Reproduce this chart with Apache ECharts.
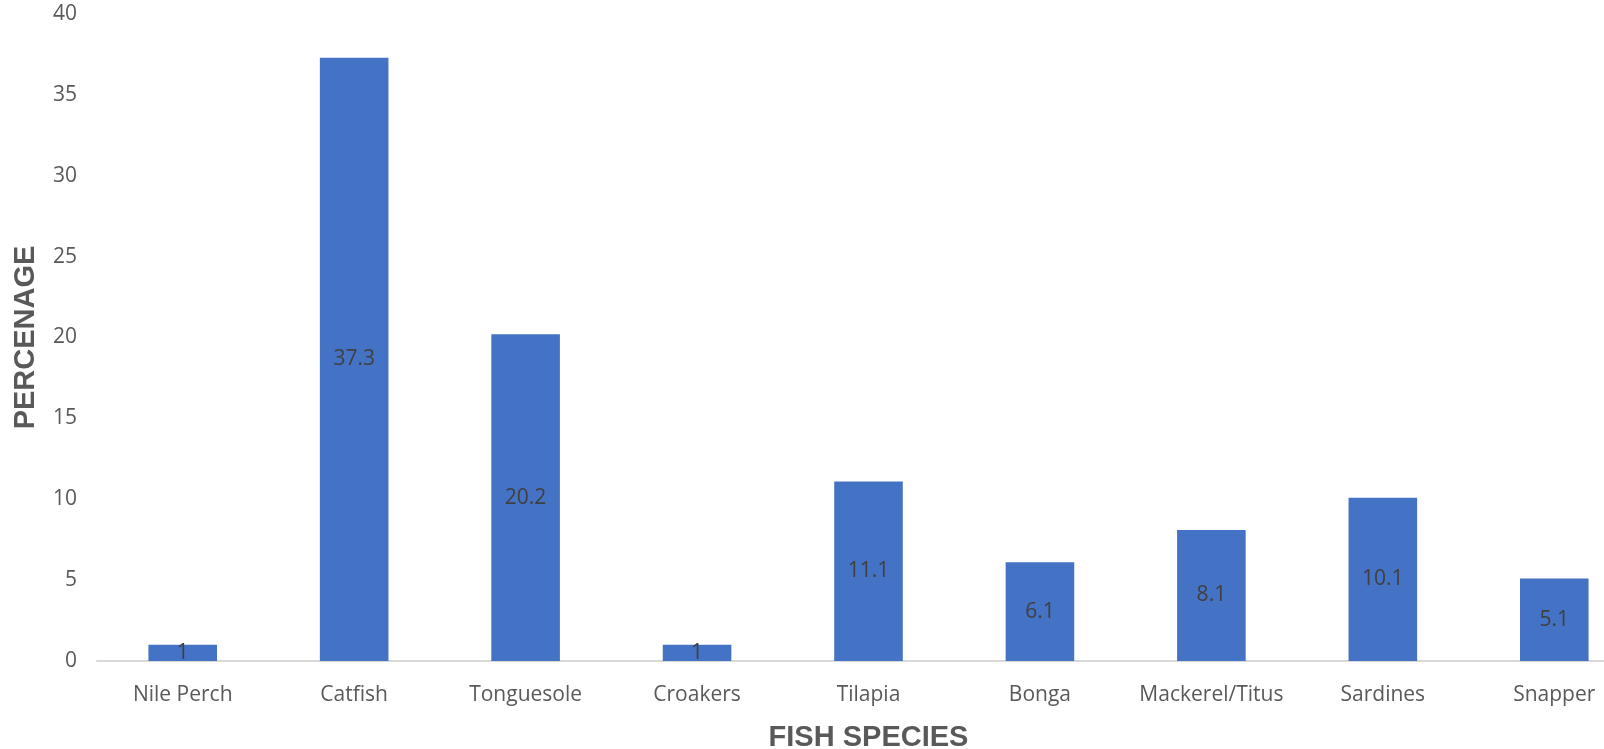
<!DOCTYPE html>
<html>
<head>
<meta charset="utf-8">
<script src="https://cdn.jsdelivr.net/npm/echarts@6/dist/echarts.min.js"></script>
<style>
  html, body { margin: 0; padding: 0; background: #ffffff; }
  #chart { width: 1604px; height: 749px; }
</style>
</head>
<body>
<div id="chart"></div>
<script>
// Share of each fish species (percent)
const species = ['Nile Perch', 'Catfish', 'Tonguesole', 'Croakers', 'Tilapia', 'Bonga', 'Mackerel/Titus', 'Sardines', 'Snapper'];
const percentages = [1, 37.3, 20.2, 1, 11.1, 6.1, 8.1, 10.1, 5.1];

const yMin = 0;
const yMax = 40;
const yStep = 5;

const chart = echarts.init(document.getElementById('chart'), null, { renderer: 'canvas' });

chart.setOption({
  backgroundColor: '#ffffff',
  animation: false,
  grid: { left: 97, right: -36, top: 14, bottom: 88, containLabel: false, outerBoundsMode: 'none' },
  xAxis: {
    type: 'category',
    data: species,
    name: 'FISH SPECIES',
    nameLocation: 'middle',
    nameGap: 62,
    nameMoveOverlap: false,
    nameTextStyle: { fontFamily: 'Liberation Sans', fontWeight: 'bold', fontSize: 29, color: '#595959' },
    axisLine: { show: true, lineStyle: { color: '#d9d9d9', width: 2 } },
    axisTick: { show: false },
    axisLabel: { fontFamily: 'Open Sans', fontSize: 21, color: '#595959', margin: 24, interval: 0 },
    splitLine: { show: false }
  },
  yAxis: {
    type: 'value',
    min: yMin,
    max: yMax,
    interval: yStep,
    name: 'PERCENAGE',
    nameLocation: 'middle',
    nameGap: 57,
    nameRotate: 90,
    nameMoveOverlap: false,
    nameTextStyle: { fontFamily: 'Liberation Sans', fontWeight: 'bold', fontSize: 29, color: '#595959' },
    axisLine: { show: false },
    axisTick: { show: false },
    axisLabel: { fontFamily: 'Open Sans', fontSize: 21, color: '#595959', margin: 20 },
    splitLine: { show: false }
  },
  series: [{
    type: 'bar',
    data: percentages,
    barWidth: '40%',
    itemStyle: { color: '#4472C4' },
    label: {
      show: true,
      position: 'inside',
      fontFamily: 'Open Sans',
      fontSize: 21,
      color: '#404040'
    }
  }]
});
</script>
</body>
</html>
